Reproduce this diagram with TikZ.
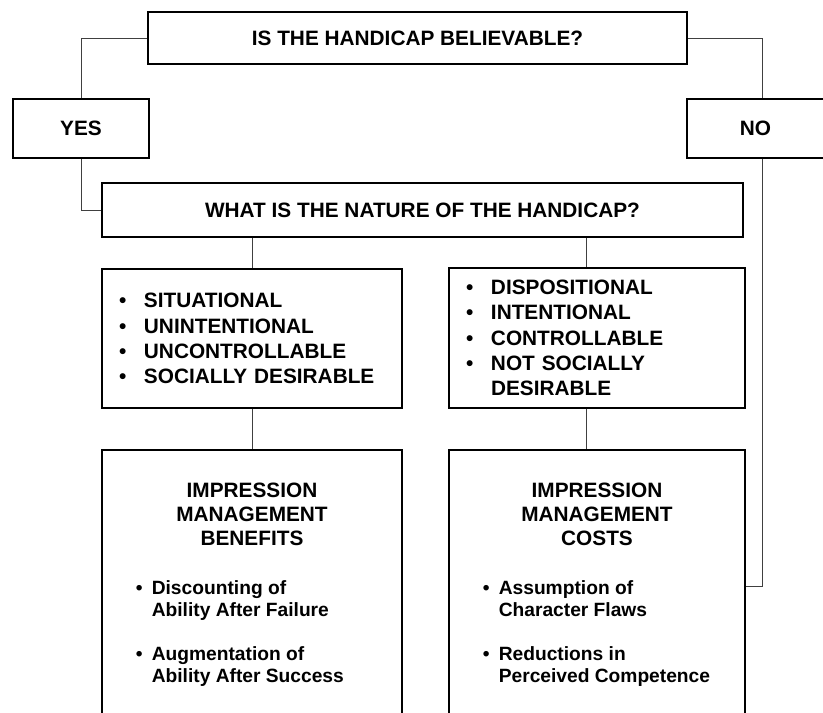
\documentclass[tikz,border=0pt]{standalone}
\usepackage{fontspec}
\setmainfont{Liberation Sans}
\newcommand{\bul}[1][25pt]{\makebox[#1][l]{\textbullet}}
\begin{document}
\begin{tikzpicture}[x=1pt,y=-1pt,
 box/.style={draw,line width=1.6pt,rectangle,inner sep=0pt,font=\fontsize{20.8}{25.3}\selectfont\bfseries},
 conn/.style={line width=0.8pt,black!75},
 caps/.style={font=\fontsize{20.8}{24}\selectfont\bfseries,inner sep=0pt},
 small/.style={font=\fontsize{19.2}{22}\selectfont\bfseries,inner sep=0pt,align=left}]
\useasboundingbox (0,0) rectangle (823,713);
\clip (0,0) rectangle (823,713);

\node (q1) at (417.5,38) [box,minimum width=539pt,minimum height=52pt]{IS THE HANDICAP BELIEVABLE?};
\node (yes) at (81,128.5) [box,minimum width=136pt,minimum height=59pt]{YES};
\node (no) at (755.5,128.5) [box,minimum width=137pt,minimum height=59pt]{NO};
\node (q2) at (422.5,210) [box,minimum width=641pt,minimum height=54pt]{WHAT IS THE NATURE OF THE HANDICAP?};

\node (sit) at (252,338.5) [box,text width=266pt,inner xsep=17pt,minimum height=139pt,align=left]{\bul SITUATIONAL\\\bul UNINTENTIONAL\\\bul UNCONTROLLABLE\\\bul SOCIALLY DESIRABLE};
\node (disp) at (597,338) [box,text width=262pt,inner xsep=17pt,minimum height=140pt,align=left]{\bul DISPOSITIONAL\\\bul INTENTIONAL\\\bul CONTROLLABLE\\\bul NOT SOCIALLY\\\hspace*{25pt}DESIRABLE};

\node (ben) at (252,586) [box,minimum width=300pt,minimum height=272pt]{};
\node (cost) at (597,586) [box,minimum width=296pt,minimum height=272pt]{};
\node (benh) at (252,482.5) [caps,anchor=north,align=center]{IMPRESSION\\MANAGEMENT\\BENEFITS};
\node (costh) at (597,482.5) [caps,anchor=north,align=center]{IMPRESSION\\MANAGEMENT\\COSTS};
\node (benl) at (135.6,580) [small,anchor=north west]{\bul[16pt]Discounting of\\\hspace*{16pt}Ability After Failure\\[22pt]\bul[16pt]Augmentation of\\\hspace*{16pt}Ability After Success};
\node (costl) at (482.6,580) [small,anchor=north west]{\bul[16pt]Assumption of\\\hspace*{16pt}Character Flaws\\[22pt]\bul[16pt]Reductions in\\\hspace*{16pt}Perceived Competence};

\coordinate (dc) at (586,0);
\draw[conn] (q1.west) -| (yes.north);
\draw[conn] (yes.south) |- (q2.west);
\draw[conn] (q1.east) -| ([xshift=6.5pt]no.north);
\draw[conn] ([xshift=6.5pt]no.south) |- (cost.east);
\draw[conn] (q2.south -| sit.north) -- (sit.north);
\draw[conn] (sit.south) -- (ben.north);
\draw[conn] (q2.south -| dc) -- (disp.north -| dc);
\draw[conn] (disp.south -| dc) -- (cost.north -| dc);

\end{tikzpicture}
\end{document}
